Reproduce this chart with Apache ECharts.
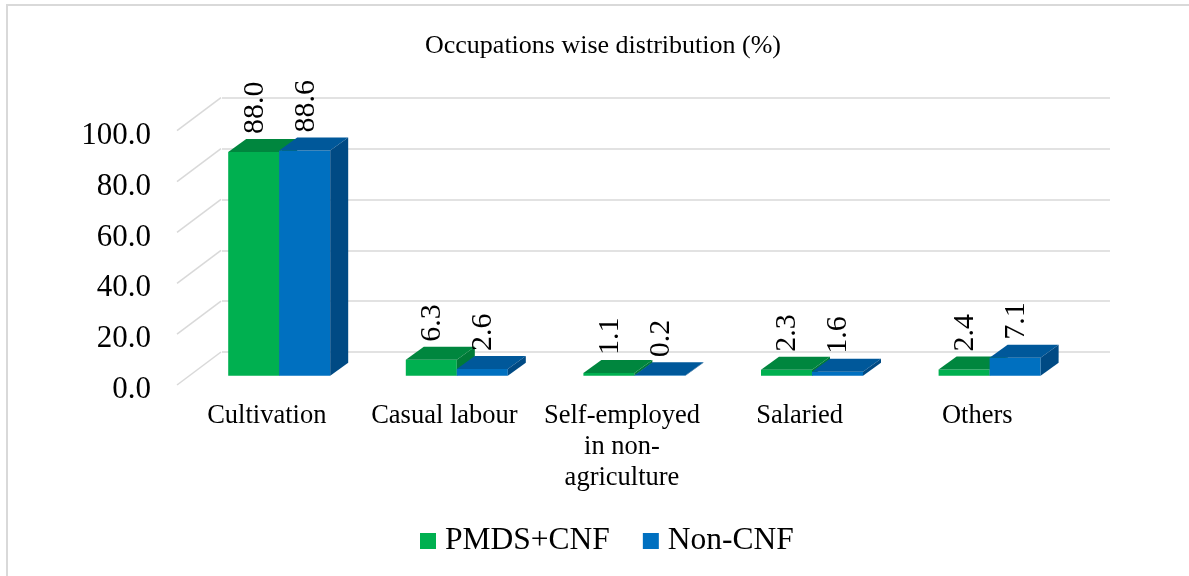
<!DOCTYPE html>
<html>
<head>
    <meta charset="utf-8" />
    <script src="https://cdn.jsdelivr.net/npm/echarts@6/dist/echarts.min.js"></script>
    <style>
        html, body { margin: 0; padding: 0; background: #fff; }
        #main { width: 1189px; height: 576px; }
    </style>
</head>
<body>
<div id="main"></div>
<script type="text/javascript">
    // data
    var categories = ['Cultivation', 'Casual labour', 'Self-employed\nin non-\nagriculture', 'Salaried', 'Others'];
    var pmdsCnf = [88.0, 6.3, 1.1, 2.3, 2.4];
    var nonCnf = [88.6, 2.6, 0.2, 1.6, 7.1];
    var yTicks = [0, 20, 40, 60, 80, 100];

    var serif = "'Liberation Serif', 'Times New Roman', serif";
    // depth of the floor and where the bars sit in it
    var depthX = 44, depthY = -33;
    var barFrontX = 12.4, barFrontY = -9.3;
    var barDepthX = 18, barDepthY = -13;
    var barW = 51;

    var colors = {
        green: { front: '#00B050', top: '#00863E', side: '#007A37' },
        blue: { front: '#0070C0', top: '#00589A', side: '#004A84' }
    };

    function makeBar(side, c) {
        return function (params, api) {
            var cat = api.value(0);
            var val = api.value(1);
            var p0 = api.coord([cat, 0]);
            var p1 = api.coord([cat, val]);
            var x0 = side < 0 ? p0[0] - barW : p0[0];
            x0 += barFrontX;
            var x1 = x0 + barW;
            var yb = p0[1] + barFrontY;
            var yt = p1[1] + barFrontY;
            var dx = barDepthX, dy = barDepthY;
            return {
                type: 'group',
                children: [
                    { type: 'rect', shape: { x: x0, y: yt, width: barW, height: yb - yt }, style: { fill: c.front } },
                    { type: 'polygon', shape: { points: [[x0, yt], [x1, yt], [x1 + dx, yt + dy], [x0 + dx, yt + dy]] }, style: { fill: c.top } },
                    { type: 'polygon', shape: { points: [[x1, yt], [x1 + dx, yt + dy], [x1 + dx, yb + dy], [x1, yb]] }, style: { fill: c.side } },
                    {
                        type: 'text', x: x0 + barW / 2 + 1, y: yt + dy - 5, rotation: Math.PI / 2,
                        style: { text: val.toFixed(1), font: '30px ' + serif, fill: '#000', align: 'left', verticalAlign: 'middle' }
                    }
                ]
            };
        };
    }

    var chart = echarts.init(document.getElementById('main'));
    var option = {
        backgroundColor: '#fff',
        animation: false,
        title: {
            text: 'Occupations wise distribution (%)',
            left: 420,
            top: 28,
            textStyle: { fontFamily: serif, fontSize: 26, fontWeight: 'normal', color: '#000' }
        },
        graphic: [{
            type: 'rect', shape: { x: 7, y: 5, width: 1300, height: 700 },
            style: { fill: 'none', stroke: '#D9D9D9', lineWidth: 2 }, silent: true
        }],
        legend: {
            bottom: 14,
            left: 415,
            icon: 'rect',
            itemWidth: 16,
            itemHeight: 16,
            itemGap: 33,
            textStyle: { fontFamily: serif, fontSize: 31.5, color: '#000', padding: [0, 0, 0, 4] },
            data: ['PMDS+CNF', 'Non-CNF']
        },
        grid: [
            { left: 178, right: 123, top: 130.7, bottom: 191 },
            { left: 178 + depthX, right: 123 - depthX, top: 130.7 + depthY, bottom: 191 - depthY }
        ],
        xAxis: [
            {
                gridIndex: 0, type: 'category', data: categories,
                axisLine: { show: false }, axisTick: { show: false },
                axisLabel: { fontFamily: serif, fontSize: 26.5, color: '#000', lineHeight: 31, margin: 16, interval: 0 }
            },
            {
                gridIndex: 1, type: 'category', data: categories,
                axisLine: { show: false }, axisTick: { show: false }, axisLabel: { show: false }
            }
        ],
        yAxis: [
            {
                gridIndex: 0, type: 'value', min: 0, max: 100, interval: 20,
                axisLine: { show: false }, axisTick: { show: false }, splitLine: { show: false },
                axisLabel: {
                    margin: 27,
                    formatter: function (v) { return '{v|' + v.toFixed(1) + '}'; },
                    rich: { v: { fontFamily: serif, fontSize: 31, color: '#000', padding: [10, 0, 0, 0] } }
                }
            },
            {
                gridIndex: 1, type: 'value', min: 0, max: 100, interval: 20,
                axisLine: { show: false }, axisTick: { show: false }, axisLabel: { show: false },
                splitLine: { lineStyle: { color: '#D9D9D9', width: 1.5 } }
            }
        ],
        series: [
            {
                // left wall lines
                type: 'custom', name: 'wall', xAxisIndex: 0, yAxisIndex: 0, silent: true,
                data: yTicks.map(function (t) { return [0, t]; }),
                renderItem: function (params, api) {
                    var p = api.coord([0, api.value(1)]);
                    var x = params.coordSys.x - 1;
                    return {
                        type: 'line', shape: { x1: x, y1: p[1], x2: x + depthX, y2: p[1] + depthY },
                        style: { stroke: '#D9D9D9', lineWidth: 1.5 }
                    };
                }
            },
            {
                type: 'custom', name: 'PMDS+CNF', xAxisIndex: 0, yAxisIndex: 0,
                itemStyle: { color: colors.green.front },
                data: pmdsCnf.map(function (v, i) { return [i, v]; }),
                renderItem: makeBar(-1, colors.green)
            },
            {
                type: 'custom', name: 'Non-CNF', xAxisIndex: 0, yAxisIndex: 0,
                itemStyle: { color: colors.blue.front },
                data: nonCnf.map(function (v, i) { return [i, v]; }),
                renderItem: makeBar(1, colors.blue)
            }
        ]
    };
    chart.setOption(option);
</script>
</body>
</html>
